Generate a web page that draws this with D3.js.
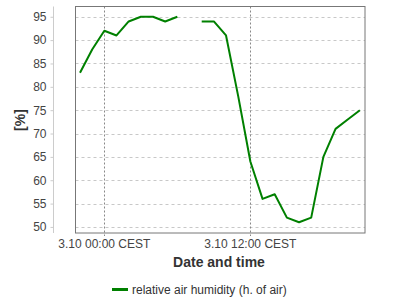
<!DOCTYPE html>
<html>
<head>
<meta charset="utf-8">
<script src="https://cdn.jsdelivr.net/npm/d3@7"></script>
<style>
  body { margin: 0; background: #fff; }
  svg { display: block; font-family: "Liberation Sans", Arial, sans-serif; }
</style>
</head>
<body>
<svg id="chart" width="400" height="300"></svg>
<script>
// Data: hours relative to 3.10 00:00, null = no reading
const hours = [-2, -1, 0, 1, 2, 3, 4, 5, 6, 7, 8, 9, 10, 11, 12, 13, 14, 15, 16, 17, 18, 19, 20, 21];
const humidity = [83, 88, 92, 91, 94, 95, 95, 94, 95, null, 94, 94, 91, 78, 64, 56, 57, 52, 51, 52, 65, 71, 73, 75];
const yTicks = [50, 55, 60, 65, 70, 75, 80, 85, 90, 95];
const xTicks = [0, 12];
const xTickLabels = ["3.10 00:00 CEST", "3.10 12:00 CEST"];
const seriesName = "relative air humidity (h. of air)";

const margin = { top: 6.5, right: 35, bottom: 67, left: 75.5 };
const width = 400, height = 300;

const svg = d3.select("#chart");

const x = d3.scaleLinear().domain([-2.37, 21.42]).range([margin.left, width - margin.right]);
const y = d3.scaleLinear().domain([48.7, 97.2]).range([height - margin.bottom, margin.top]);

const plotTop = margin.top, plotBottom = height - margin.bottom;

// Horizontal grid
svg.append("g")
  .selectAll("line")
  .data(yTicks).enter().append("line")
  .attr("x1", margin.left).attr("x2", width - margin.right)
  .attr("y1", d => Math.round(y(d)) + 0.5).attr("y2", d => Math.round(y(d)) + 0.5)
  .attr("stroke", "#c8c8c8").attr("stroke-dasharray", "3,3");

// Vertical grid (extends a little below the plot as a tick)
svg.append("g")
  .selectAll("line")
  .data(xTicks).enter().append("line")
  .attr("x1", d => Math.round(x(d)) + 0.5).attr("x2", d => Math.round(x(d)) + 0.5)
  .attr("y1", plotTop).attr("y2", plotBottom + 3)
  .attr("stroke", "#888").attr("stroke-dasharray", "2,2");

// Plot frame
svg.append("rect")
  .attr("x", margin.left).attr("y", plotTop)
  .attr("width", width - margin.right - margin.left)
  .attr("height", plotBottom - plotTop)
  .attr("fill", "none").attr("stroke", "#777");

// Y axis, offset to the left of the frame
const yAxis = svg.append("g")
  .attr("transform", "translate(53.5,0)")
  .call(d3.axisLeft(y).tickValues(yTicks).tickSize(3).tickPadding(4));
yAxis.select(".domain").attr("stroke", "#ccc").attr("d", `M0,${plotTop}V${plotBottom}`);
yAxis.selectAll(".tick line").attr("stroke", "#ccc");
yAxis.selectAll("text").attr("fill", "#444").style("font-size", "12px");

// X tick labels
svg.append("g")
  .selectAll("text")
  .data(xTicks).enter().append("text")
  .attr("x", d => x(d)).attr("y", plotBottom + 15)
  .attr("text-anchor", "middle")
  .attr("fill", "#444").style("font-size", "12px")
  .text((d, i) => xTickLabels[i]);

// Axis titles
svg.append("text")
  .attr("x", 219).attr("y", 267)
  .attr("text-anchor", "middle")
  .attr("fill", "#333").style("font-size", "14px").style("font-weight", "bold")
  .text("Date and time");

svg.append("text")
  .attr("transform", "translate(25,120) rotate(-90)")
  .attr("text-anchor", "middle")
  .attr("fill", "#333").style("font-size", "14px").style("font-weight", "bold")
  .text("[%]");

// Series line
const points = hours.map((h, i) => ({ h, v: humidity[i] }));
const line = d3.line()
  .defined(d => d.v !== null)
  .x(d => x(d.h)).y(d => y(d.v));

svg.append("path")
  .datum(points)
  .attr("fill", "none")
  .attr("stroke", "#008000")
  .attr("stroke-width", 2)
  .attr("stroke-linejoin", "round")
  .attr("d", line);

// Legend
const legend = svg.append("g").attr("transform", "translate(112,289)");
legend.append("line")
  .attr("x1", 0).attr("x2", 16).attr("y1", 0.5).attr("y2", 0.5)
  .attr("stroke", "#008000").attr("stroke-width", 3);
legend.append("text")
  .attr("x", 20).attr("y", 4.5)
  .attr("fill", "#333").style("font-size", "12px")
  .text(seriesName);
</script>
</body>
</html>
